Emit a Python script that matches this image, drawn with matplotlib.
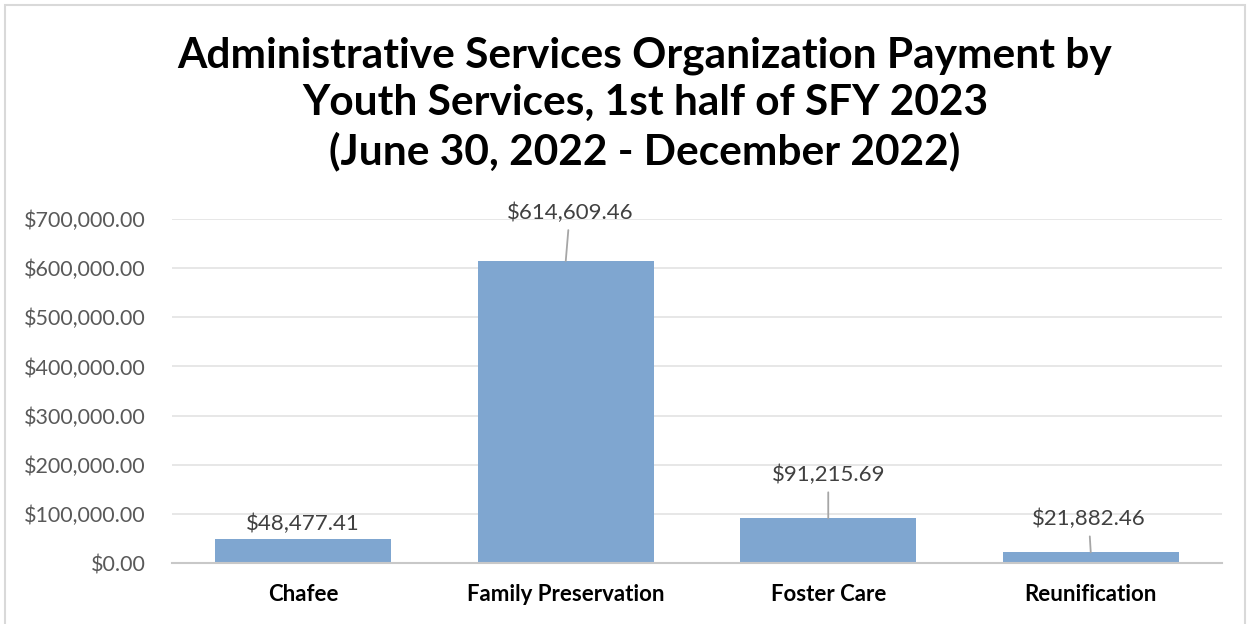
import matplotlib
matplotlib.use("Agg")
import matplotlib.pyplot as plt
from matplotlib.patches import Rectangle

# Data
categories = ["Chafee", "Family Preservation", "Foster Care", "Reunification"]
payments = [48477.41, 614609.46, 91215.69, 21882.46]
yticks = [0, 100000, 200000, 300000, 400000, 500000, 600000, 700000]

# label offsets above bar top (pixels) and whether a leader line is drawn
label_dx = [0, 4, 0, -2]
label_dy = [15, 48, 43, 33]
leaders = [False, True, True, True]

plt.rcParams['font.family'] = ['Lato', 'DejaVu Sans']

fig = plt.figure(figsize=(12.52, 6.24), dpi=100)
ax = fig.add_axes([172/1252, 1 - 563/624, 1050/1252, 344/624])

bar_color = "#7fa6d0"
x = list(range(len(categories)))
ax.bar(x, payments, width=0.67, color=bar_color, zorder=2)

ax.set_xlim(-0.5, len(categories) - 0.5)
ax.set_ylim(0, 700000)
ax.set_yticks(yticks)
ax.set_yticklabels([f"${v:,.2f}" for v in yticks], color="#595959", fontsize=15.5)
ax.set_xticks(x)
ax.set_xticklabels(categories, fontsize=16, fontweight="bold", color="#000000")
ax.tick_params(axis="both", length=0)
ax.tick_params(axis="y", pad=19)
ax.tick_params(axis="x", pad=15)
ax.grid(axis="y", color="#e3e3e3", linewidth=1.2, zorder=0)
for side in ["top", "right", "left"]:
    ax.spines[side].set_visible(False)
ax.spines["bottom"].set_color("#c8c8c8")
ax.spines["bottom"].set_linewidth(1.5)

for i, v in enumerate(payments):
    props = dict(arrowstyle="-", color="#a6a6a6", lw=1.3, shrinkA=3, shrinkB=0) if leaders[i] else None
    ax.annotate(f"${v:,.2f}", xy=(i, v), xytext=(label_dx[i], label_dy[i]),
                textcoords="offset pixels", ha="center", va="center",
                fontsize=16, color="#404040", arrowprops=props, annotation_clip=False)

fig.text(645/1252, 1 - 104/624,
         "Administrative Services Organization Payment by\nYouth Services, 1st half of SFY 2023\n(June 30, 2022 - December 2022)",
         ha="center", va="center", fontsize=30.5, fontweight="bold", linespacing=1.3)

# chart border
fig.patches.append(Rectangle((5/1252, -0.01), 1240/1252, 1 - 5/624 + 0.01,
                             transform=fig.transFigure, fill=False,
                             edgecolor="#d9d9d9", linewidth=1.5))

fig.savefig("out.png", dpi=100)
